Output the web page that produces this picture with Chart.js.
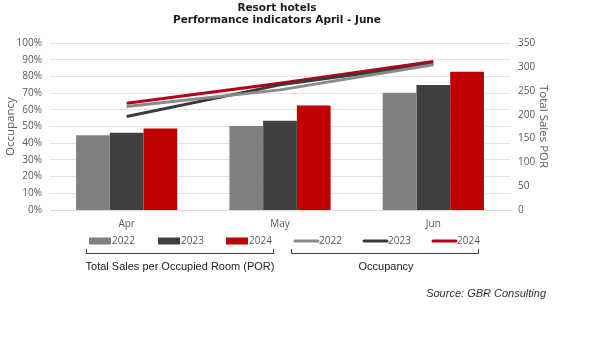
<!DOCTYPE html>
<html>
<head>
<meta charset="utf-8">
<script src="https://cdn.jsdelivr.net/npm/chart.js@4"></script>
<style>
    html, body { margin: 0; padding: 0; background: #fff; }
    #wrap { position: relative; width: 600px; height: 353px; }
</style>
</head>
<body>
<div id="wrap"><canvas id="chart" width="600" height="353"></canvas></div>
<script>
const months = ['Apr', 'May', 'Jun'];
const years = ['2022', '2023', '2024'];

// Total sales per occupied room (bars, right axis)
const por2022 = [157, 176, 246];
const por2023 = [162, 187, 262];
const por2024 = [171, 219, 290];

// Occupancy in % (lines, left axis)
const occ2022 = [62, 72, 87];
const occ2023 = [56, 75, 87.5];
const occ2024 = [64, 76, 89];

const COLORS = ['#808080', '#404040', '#c00000'];
const LINE_COLORS = ['#8a8a8a', '#3a3a3a', '#b5001a'];
const TICK_FONT = { family: 'Open Sans', size: 10 };
const TITLE_FONT = { family: 'Open Sans', size: 11.5 };

function barSet(label, data, i) {
    return {
        type: 'bar',
        label: label,
        data: data,
        yAxisID: 'y1',
        backgroundColor: COLORS[i],
        barPercentage: 1,
        categoryPercentage: 0.66,
        order: 1
    };
}

function lineSet(label, data, i) {
    return {
        type: 'line',
        label: label,
        data: data,
        yAxisID: 'y',
        borderColor: LINE_COLORS[i],
        backgroundColor: LINE_COLORS[i],
        borderWidth: 3,
        pointRadius: 0,
        tension: 0,
        order: 0
    };
}

// legend + brackets + source drawn under the axis
const extras = {
    id: 'extras',
    afterDraw(chart) {
        const ctx = chart.ctx;
        const sets = chart.data.datasets;
        const ly = 241;
        const xs = [89, 158, 226, 294, 363, 432];
        ctx.save();
        ctx.font = '10px "Open Sans"';
        ctx.textBaseline = 'middle';
        ctx.textAlign = 'left';
        sets.forEach((ds, i) => {
            const x = xs[i];
            if (ds.type === 'bar') {
                ctx.fillStyle = ds.backgroundColor;
                ctx.fillRect(x, ly - 3.5, 22, 7);
                ctx.fillStyle = '#595959';
                ctx.fillText(ds.label, x + 23, ly + 0.5);
            } else {
                ctx.strokeStyle = ds.borderColor;
                ctx.lineWidth = 3;
                ctx.lineCap = 'round';
                ctx.beginPath();
                ctx.moveTo(x + 1, ly);
                ctx.lineTo(x + 24, ly);
                ctx.stroke();
                ctx.fillStyle = '#595959';
                ctx.fillText(ds.label, x + 25, ly + 0.5);
            }
        });

        // group brackets
        ctx.strokeStyle = '#404040';
        ctx.lineWidth = 1;
        ctx.lineCap = 'butt';
        [[86, 273], [291, 478]].forEach(([a, b]) => {
            ctx.beginPath();
            ctx.moveTo(a + 0.5, 249);
            ctx.lineTo(a + 0.5, 253.5);
            ctx.lineTo(b + 0.5, 253.5);
            ctx.lineTo(b + 0.5, 249);
            ctx.stroke();
        });
        ctx.fillStyle = '#222';
        ctx.font = '11px "Liberation Sans"';
        ctx.textAlign = 'center';
        ctx.fillText('Total Sales per Occupied Room (POR)', 180, 267);
        ctx.fillText('Occupancy', 386, 267);

        ctx.font = 'italic 11px "Liberation Sans"';
        ctx.textAlign = 'right';
        ctx.fillStyle = '#333';
        ctx.fillText('Source: GBR Consulting', 546, 294);
        ctx.restore();
    }
};

new Chart(document.getElementById('chart').getContext('2d'), {
    type: 'bar',
    data: {
        labels: months,
        datasets: [
            barSet(years[0], por2022, 0),
            barSet(years[1], por2023, 1),
            barSet(years[2], por2024, 2),
            lineSet(years[0], occ2022, 0),
            lineSet(years[1], occ2023, 1),
            lineSet(years[2], occ2024, 2)
        ]
    },
    options: {
        responsive: false,
        animation: false,
        layout: {
            padding: { left: 4, right: 50, top: 2, bottom: 117 }
        },
        plugins: {
            legend: { display: false },
            tooltip: { enabled: false },
            title: {
                display: true,
                text: ['Resort hotels', 'Performance indicators April - June'],
                font: { family: 'DejaVu Sans', size: 10.5, weight: 'bold', lineHeight: 1.15 },
                color: '#1a1a1a',
                padding: { top: 0, bottom: 17 }
            }
        },
        scales: {
            x: {
                grid: { display: false },
                border: { color: '#d9d9d9' },
                ticks: { color: '#595959', font: TICK_FONT, padding: 0 },
                afterFit(scale) { scale.height = 26; }
            },
            y: {
                position: 'left',
                min: 0,
                max: 100,
                ticks: {
                    stepSize: 10,
                    color: '#595959',
                    font: TICK_FONT,
                    padding: 8,
                    callback: (v) => v + '%'
                },
                grid: { color: '#e3e3e3', drawTicks: false },
                border: { display: false },
                title: {
                    display: true,
                    text: 'Occupancy',
                    color: '#595959',
                    font: TITLE_FONT,
                    padding: 0
                },
                afterFit(scale) { scale.width = 46; }
            },
            y1: {
                position: 'right',
                min: 0,
                max: 350,
                ticks: {
                    stepSize: 50,
                    color: '#595959',
                    font: TICK_FONT,
                    padding: 8
                },
                grid: { display: false, drawTicks: false },
                border: { display: false },
                title: {
                    display: true,
                    text: 'Total Sales POR',
                    color: '#595959',
                    font: TITLE_FONT,
                    padding: 0
                },
                afterFit(scale) { scale.width = 40; }
            }
        }
    },
    plugins: [extras]
});
</script>
</body>
</html>
